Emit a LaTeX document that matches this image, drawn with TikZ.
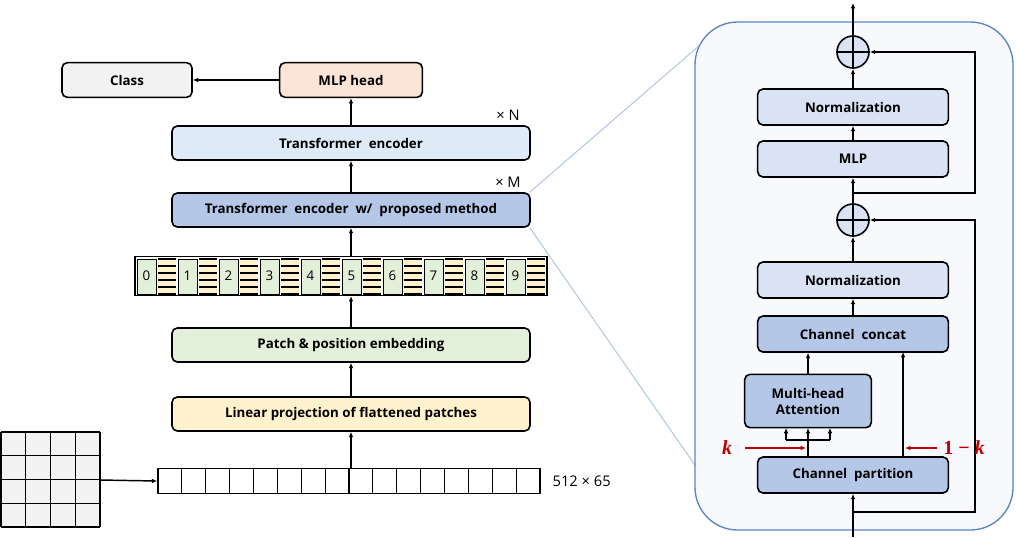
\documentclass[tikz,border=0pt]{standalone}
\usepackage{fontspec}
\setmainfont{Open Sans}
\newfontfamily\kfont{Liberation Serif}
\usetikzlibrary{arrows.meta}
\definecolor{clsgray}{HTML}{F2F2F2}
\definecolor{headorange}{HTML}{FBE5D6}
\definecolor{enclight}{HTML}{DEEBF7}
\definecolor{encdark}{HTML}{B4C7E7}
\definecolor{embgreen}{HTML}{E2F0D9}
\definecolor{projyellow}{HTML}{FFF2CC}
\definecolor{panelfill}{HTML}{F7F9FD}
\definecolor{panelline}{HTML}{5B84C4}
\definecolor{innerlight}{HTML}{DAE3F3}
\definecolor{kred}{HTML}{C00000}
\tikzset{
  blk/.style={draw, line width=1.2pt, rounded corners=4pt, font=\fontsize{10}{12}\selectfont\bfseries, align=center, inner sep=0pt},
  wide/.style={blk, minimum width=268.5pt, minimum height=25.5pt},
  inner/.style={blk, minimum width=143pt, minimum height=27pt},
  arr/.style={-{Latex[length=4pt,width=3.5pt]}, line width=1.1pt},
  redarr/.style={-{Latex[length=4pt,width=3.5pt]}, line width=1.1pt, kred},
  plus/.style={draw, circle, line width=1.2pt, fill=innerlight, minimum size=24pt, inner sep=0pt},
  ratio/.style={kred, font=\kfont\fontsize{15}{16}\selectfont\bfseries}
}
\begin{document}
\begin{tikzpicture}[x=0.75pt, y=-0.75pt]
    \useasboundingbox (0,0) rectangle (1016,537);

    % zoom lines and the detail panel
    \draw[panelline!50, line width=0.7pt] (530,192) -- (700,45);
    \draw[panelline!50, line width=0.7pt] (530,228) -- (697,468);
    \draw[panelline, fill=panelfill, line width=1pt, rounded corners=32pt] (695,22) rectangle (1013,530);

    % left column: blocks
    \node[blk, fill=clsgray, minimum width=97.5pt, minimum height=26pt] (cls) at (127,80) {Class};
    \node[blk, fill=headorange, minimum width=107pt, minimum height=26pt] (head) at (351,80) {MLP head};
    \node[wide, fill=enclight] (enc) at (351,143) {Transformer\ \ encoder};
    \node[wide, fill=encdark] (encp) at (351,210) {Transformer\ \ encoder\ \ w/\ \ proposed\ method};
    \node[font=\fontsize{11}{12}\selectfont] at (508,115) {× N};
    \node[font=\fontsize{11}{12}\selectfont] at (508,182) {× M};
    \node[wide, fill=embgreen] (emb) at (351,345) {Patch \& position embedding};
    \node[wide, fill=projyellow] (proj) at (351,414) {Linear projection of flattened patches};

    % token strip
    \node[draw, line width=1.2pt, minimum width=309pt, minimum height=29pt, inner sep=0pt] (tok) at (341,276) {};
    \foreach \i in {0,...,9} {
      \pgfmathsetmacro{\xa}{137+41*\i}
      \draw[fill=embgreen, line width=0.6pt] (\xa,259) rectangle ++(19,35);
      \node[font=\fontsize{10}{10}\selectfont] at (\xa+9.5,276) {\i};
      \fill[projyellow] (\xa+21,259) rectangle ++(18,35);
      \foreach \s in {259,266,273,280,287,294}
        \draw[line width=0.9pt] (\xa+21,\s) -- ++(18,0);
    }

    % flattened sequence
    \node[draw, line width=1.2pt, minimum width=286.5pt, minimum height=19pt, inner sep=0pt] (seq) at (349,481) {};
    \foreach \i in {1,...,15}
      \draw[line width=0.9pt] (158+23.875*\i,468.5) -- ++(0,25);
    \node[anchor=west, font=\fontsize{11}{12}\selectfont] at (548,481) {512 × 65};

    % input image grid
    \fill[clsgray] (1,432) rectangle (100,527);
    \foreach \g in {0,1,2,3,4} {
      \draw[line width=1pt] (1+24.75*\g,432) -- ++(0,95);
      \draw[line width=1pt] (1,432+23.75*\g) -- ++(99,0);
    }
    \coordinate (img) at (100,480);

    % left connectors
    \draw[arr] (img) -- (seq.west);
    \draw[arr] (seq.north -| proj) -- (proj.south);
    \draw[arr] (proj) -- (emb);
    \draw[arr] (emb.north) -- (emb.north |- tok.south);
    \draw[arr] (emb.north |- tok.north) -- (encp.south);
    \draw[arr] (encp) -- (enc);
    \draw[arr] (enc) -- (head);
    \draw[arr] (head) -- (cls);

    % right panel: blocks
    \node[plus] (add1) at (853,52) {};
    \draw[line width=1.2pt] (add1.north) -- (add1.south) (add1.west) -- (add1.east);
    \node[inner, fill=innerlight] (norm1) at (853,107) {Normalization};
    \node[inner, fill=innerlight] (mlp) at (853,159) {MLP};
    \node[plus] (add2) at (853,220) {};
    \draw[line width=1.2pt] (add2.north) -- (add2.south) (add2.west) -- (add2.east);
    \node[inner, fill=innerlight] (norm2) at (853,280) {Normalization};
    \node[inner, fill=encdark] (cat) at (853,334) {Channel\ \ concat};
    \node[blk, fill=encdark, minimum width=95pt, minimum height=40pt] (mha) at (808,401) {Multi-head\\Attention};
    \node[inner, fill=encdark] (part) at (853,475) {Channel\ \ partition};
    \coordinate (out) at (853,3);
    \coordinate (in) at (853,537);
    \coordinate (res1) at (853,193);
    \coordinate (res2) at (853,512);
    \coordinate (split) at (808,440);

    % right panel: connectors
    \draw[arr] (in) -- (part);
    \draw[arr] (res2) -| (975,220) -- (add2);
    \draw[line width=1.1pt] (part.north -| split) -- (split);
    \draw[line width=1.1pt] (786,440) -- (830,440);
    \foreach \xx in {786,808,830}
      \draw[arr] (\xx,440) -- (\xx,428);
    \draw[arr] (mha) -- (cat.south -| mha);
    \draw[arr] (903,457) -- (903,352);
    \draw[arr] (cat) -- (norm2);
    \draw[arr] (norm2) -- (add2);
    \draw[arr] (add2) -- (mlp);
    \draw[arr] (res1) -| (975,52) -- (add1);
    \draw[arr] (mlp) -- (norm1);
    \draw[arr] (norm1) -- (add1);
    \draw[arr] (add1) -- (out);

    % channel split ratios
    \node[ratio] (klab) at (727,448) {\itshape k};
    \node[ratio] (klab2) at (964,448) {1 {\upshape\normalfont\kfont\bfseries −} \itshape k};
    \draw[redarr] (745,448) -- (806,448);
    \draw[redarr] (937,448) -- (905,448);
\end{tikzpicture}
\end{document}
